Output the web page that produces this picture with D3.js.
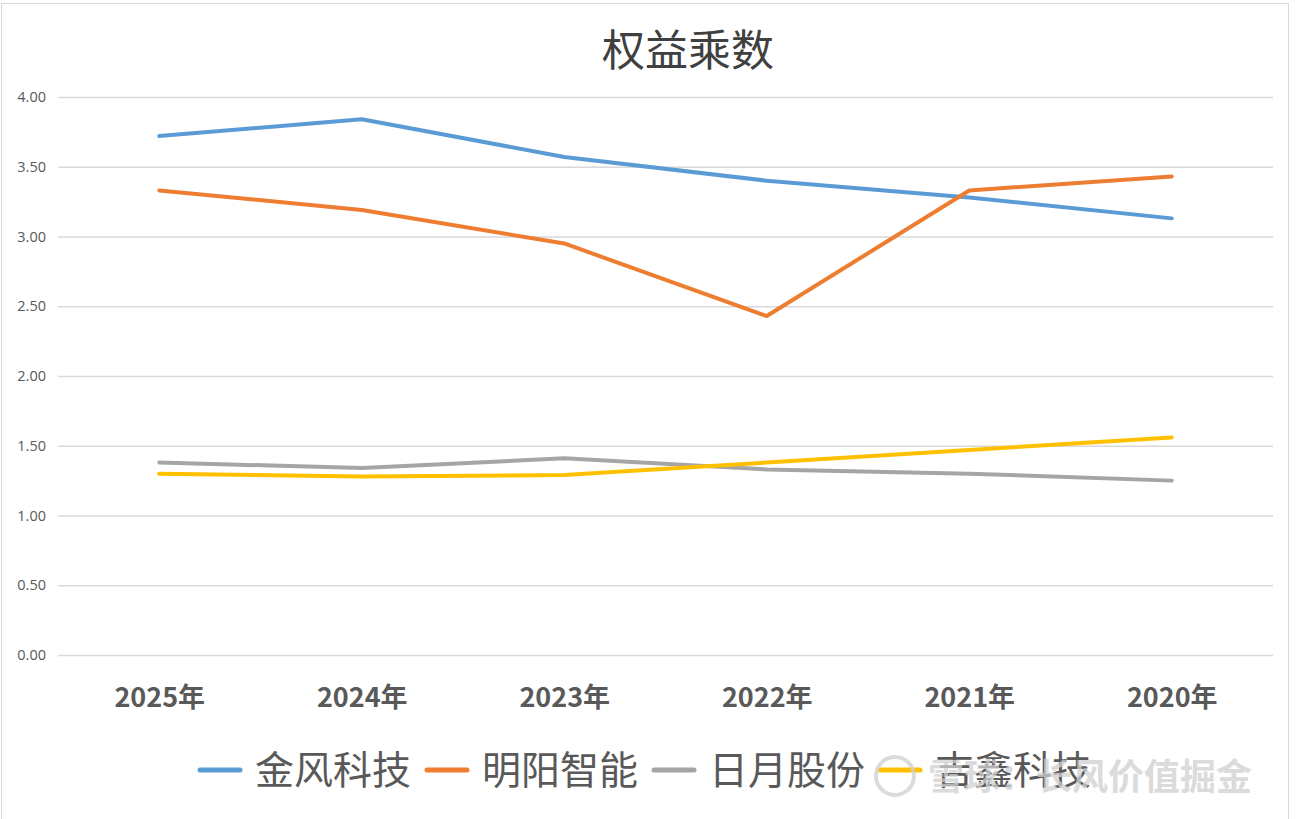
<!DOCTYPE html>
<html>
<head>
<meta charset="utf-8">
<script src="https://cdn.jsdelivr.net/npm/d3@7"></script>
<style>
  body { margin: 0; background: #fff; }
  svg { display: block; }
</style>
</head>
<body>
<div id="viz"></div>
<script>
const width = 1296;
const height = 819;

// data
const years = ["2025年", "2024年", "2023年", "2022年", "2021年", "2020年"];
const names = ["金风科技", "明阳智能", "日月股份", "吉鑫科技"];
const goldwind = [3.72, 3.84, 3.57, 3.40, 3.28, 3.13];
const mingyang = [3.33, 3.19, 2.95, 2.43, 3.33, 3.43];
const riyue = [1.38, 1.34, 1.41, 1.33, 1.30, 1.25];
const jixin = [1.30, 1.28, 1.29, 1.38, 1.47, 1.56];
const yTicks = [0, 0.5, 1, 1.5, 2, 2.5, 3, 3.5, 4];

const series = [
    { name: names[0], values: goldwind, color: "#5B9BD5" },
    { name: names[1], values: mingyang, color: "#ED7D31" },
    { name: names[2], values: riyue, color: "#A5A5A5" },
    { name: names[3], values: jixin, color: "#FFC000" },
];

const plot = { left: 58, right: 1273, top: 97, bottom: 655 };

const svg = d3.select('#viz')
    .append("svg")
    .attr('width', width)
    .attr('height', height);

// chart frame
svg.append("rect")
    .attr("x", 1.5).attr("y", 3.5)
    .attr("width", 1287).attr("height", 820)
    .attr("fill", "#fff")
    .attr("stroke", "#d9d9d9");

const xScale = d3.scalePoint()
    .domain(years)
    .range([plot.left, plot.right])
    .padding(0.5);

const yScale = d3.scaleLinear()
    .domain([0, 4])
    .range([plot.bottom, plot.top]);

// title
svg.append("text")
    .attr("x", 688).attr("y", 66)
    .attr("text-anchor", "middle")
    .attr("font-family", "'Noto Sans CJK SC', sans-serif")
    .attr("font-size", 43)
    .attr("fill", "#404040")
    .text("权益乘数");

// y axis with gridlines
const yAxis = svg.append("g")
    .attr("transform", `translate(${plot.left}, 0)`)
    .call(d3.axisLeft(yScale)
        .tickValues(yTicks)
        .tickFormat(d3.format(".2f"))
        .tickSize(-(plot.right - plot.left))
        .tickPadding(12));
yAxis.select(".domain").remove();
yAxis.selectAll(".tick line").attr("stroke", "#d9d9d9").attr("stroke-width", 1.5);
yAxis.selectAll(".tick text")
    .attr("font-family", "'Open Sans', sans-serif")
    .attr("font-size", 14.5)
    .attr("fill", "#595959");

// x axis labels
const xAxis = svg.append("g")
    .attr("transform", `translate(0, ${plot.bottom})`)
    .call(d3.axisBottom(xScale).tickSize(0).tickPadding(33));
xAxis.select(".domain").remove();
xAxis.selectAll(".tick text")
    .attr("font-family", "'Noto Sans CJK SC', sans-serif")
    .attr("font-weight", "bold")
    .attr("font-size", 27)
    .attr("fill", "#595959");

// lines
const line = d3.line()
    .x((d, i) => xScale(years[i]))
    .y(d => yScale(d));

svg.append("g")
    .selectAll("path")
    .data(series)
    .join("path")
    .attr("fill", "none")
    .attr("stroke", d => d.color)
    .attr("stroke-width", 4)
    .attr("stroke-linecap", "round")
    .attr("stroke-linejoin", "round")
    .attr("d", d => line(d.values));

// legend
const legendX = [200, 427, 654, 880];
const legend = svg.append("g")
    .selectAll("g")
    .data(series)
    .join("g")
    .attr("transform", (d, i) => `translate(${legendX[i]}, 770)`);
legend.append("line")
    .attr("x1", 0).attr("x2", 40)
    .attr("stroke", d => d.color)
    .attr("stroke-width", 5)
    .attr("stroke-linecap", "round");
legend.append("text")
    .attr("x", 55).attr("y", 14)
    .attr("font-family", "'Noto Sans CJK SC', sans-serif")
    .attr("font-size", 39)
    .attr("fill", "#595959")
    .text(d => d.name);

// watermark
const wm = svg.append("g").attr("opacity", 0.75);
wm.append("circle")
    .attr("cx", 895).attr("cy", 776).attr("r", 19)
    .attr("fill", "none").attr("stroke", "#d0d0d0").attr("stroke-width", 4);
wm.append("text")
    .attr("x", 928).attr("y", 790)
    .attr("font-family", "'Noto Sans CJK SC', sans-serif")
    .attr("font-size", 36)
    .attr("font-weight", "bold")
    .attr("fill", "#d0d0d0")
    .text("雪球：长风价值掘金");
</script>
</body>
</html>
